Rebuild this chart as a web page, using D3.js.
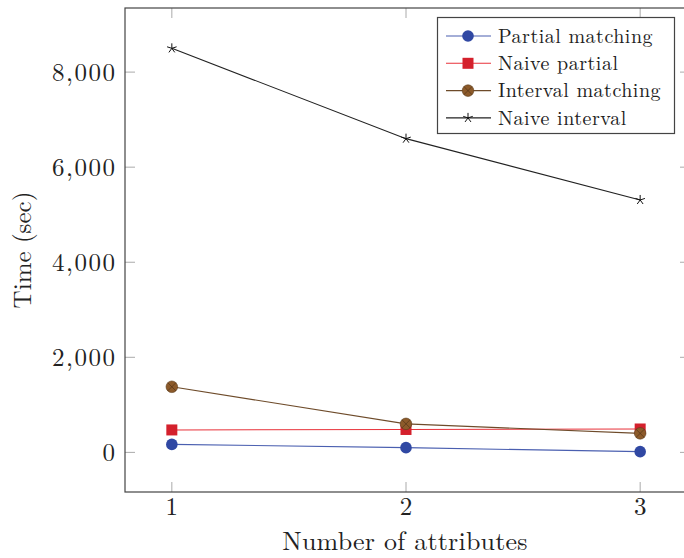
<!DOCTYPE html>
<html>
<head>
<meta charset="utf-8">
<script src="https://cdn.jsdelivr.net/npm/d3@7"></script>
<style>
  body { margin: 0; background: #fff; }
  svg text { font-family: "Latin Modern Roman", "CMU Serif", "Liberation Serif", serif; fill: #222; }
</style>
</head>
<body>
<svg id="chart" width="684" height="558"></svg>
<script>
var attributes = [1, 2, 3]
var seriesNames = ["Partial matching", "Naive partial", "Interval matching", "Naive interval"]
var partialMatching = [168, 99, 15]
var naivePartial = [472, 482, 492]
var intervalMatching = [1380, 600, 400]
var naiveInterval = [8500, 6600, 5310]
var yTicks = [0, 2000, 4000, 6000, 8000]

var series = [
    { name: seriesNames[0], values: partialMatching, color: "#3048a3", line: "#4a5fb0", mark: "circle" },
    { name: seriesNames[1], values: naivePartial, color: "#d4202c", line: "#e8323a", mark: "square" },
    { name: seriesNames[2], values: intervalMatching, color: "#8c5a2a", line: "#6e4b2a", mark: "otimes" },
    { name: seriesNames[3], values: naiveInterval, color: "#111", line: "#222", mark: "star" }
]

var svg = d3.select("#chart"),
    margin = { top: 8, left: 125, bottom: 66, right: -3 },
    width = +svg.attr("width") - margin.left - margin.right,
    height = +svg.attr("height") - margin.top - margin.bottom;

// pgfplots style: enlarge limits by 10% of the data range
var allVals = [].concat(partialMatching, naivePartial, intervalMatching, naiveInterval)
var ymin = d3.min(allVals), ymax = d3.max(allVals)
var ypad = (ymax - ymin) * 0.1
var xpad = (d3.max(attributes) - d3.min(attributes)) * 0.1

var x = d3.scaleLinear()
    .domain([d3.min(attributes) - xpad, d3.max(attributes) + xpad])
    .range([margin.left, margin.left + width])

var y = d3.scaleLinear()
    .domain([ymin - ypad, ymax + ypad])
    .range([margin.top + height, margin.top])

var fmt = d3.format(",")
var tickColor = "#aaa"

// ticks on all four sides, pointing inward
var g = svg.append("g")
g.selectAll(".ytl").data(yTicks).enter().append("line")
    .attr("x1", x.range()[0]).attr("x2", x.range()[0] + 10)
    .attr("y1", d => y(d)).attr("y2", d => y(d))
    .attr("stroke", tickColor)
g.selectAll(".ytr").data(yTicks).enter().append("line")
    .attr("x1", x.range()[1]).attr("x2", x.range()[1] - 7)
    .attr("y1", d => y(d)).attr("y2", d => y(d))
    .attr("stroke", tickColor)
g.selectAll(".xtb").data(attributes).enter().append("line")
    .attr("x1", d => x(d)).attr("x2", d => x(d))
    .attr("y1", y.range()[0]).attr("y2", y.range()[0] - 10)
    .attr("stroke", tickColor)
g.selectAll(".xtt").data(attributes).enter().append("line")
    .attr("x1", d => x(d)).attr("x2", d => x(d))
    .attr("y1", y.range()[1]).attr("y2", y.range()[1] + 10)
    .attr("stroke", tickColor)

svg.append("rect")
    .attr("x", x.range()[0]).attr("y", y.range()[1])
    .attr("width", width).attr("height", height)
    .attr("fill", "none").attr("stroke", "#444").attr("stroke-width", 1.2)

// tick labels
svg.selectAll(".ylab").data(yTicks).enter().append("text")
    .attr("x", x.range()[0] - 8.5)
    .attr("y", d => y(d))
    .attr("dy", "0.35em")
    .attr("text-anchor", "end")
    .style("font-size", "25px")
    .style("letter-spacing", "1.5px")
    .text(d => fmt(d))

svg.selectAll(".xlab").data(attributes).enter().append("text")
    .attr("x", d => x(d))
    .attr("y", 515)
    .attr("text-anchor", "middle")
    .style("font-size", "25px")
    .text(d => d)

svg.append("text")
    .attr("x", 405).attr("y", 550)
    .attr("text-anchor", "middle")
    .style("font-size", "26px")
    .style("letter-spacing", "0.2px")
    .text("Number of attributes")

svg.append("text")
    .attr("transform", "translate(31," + (margin.top + height / 2) + ") rotate(-90)")
    .attr("text-anchor", "middle")
    .style("font-size", "25px")
    .text("Time (sec)")

function drawMark(sel, s, cx, cy) {
    if (s.mark == "circle") {
        sel.append("circle").attr("cx", cx).attr("cy", cy).attr("r", 5.8)
            .attr("fill", s.color)
    } else if (s.mark == "square") {
        sel.append("rect").attr("x", cx - 5.5).attr("y", cy - 5.5)
            .attr("width", 11).attr("height", 11).attr("fill", s.color)
    } else if (s.mark == "otimes") {
        sel.append("circle").attr("cx", cx).attr("cy", cy).attr("r", 5.8)
            .attr("fill", s.color).attr("stroke", "#5a3a1a").attr("stroke-width", 0.6)
        var r = 5.8 * Math.SQRT1_2
        sel.append("path")
            .attr("d", `M${cx - r},${cy - r}L${cx + r},${cy + r}M${cx - r},${cy + r}L${cx + r},${cy - r}`)
            .attr("stroke", "#4a2e14").attr("stroke-width", 0.6)
    } else {
        // five-armed star like pgfplots "star"
        var d = ""
        for (var k = 0; k < 5; k++) {
            var a = -Math.PI / 2 + k * 2 * Math.PI / 5
            d += `M${cx},${cy}L${cx + 5 * Math.cos(a)},${cy + 5 * Math.sin(a)}`
        }
        sel.append("path").attr("d", d).attr("stroke", s.color).attr("stroke-width", 1)
    }
}

var line = d3.line()
    .x((d, i) => x(attributes[i]))
    .y(d => y(d))

series.forEach(function (s) {
    var sg = svg.append("g")
    sg.append("path")
        .attr("d", line(s.values))
        .attr("fill", "none")
        .attr("stroke", s.line)
        .attr("stroke-width", 1.1)
    s.values.forEach(function (v, i) {
        drawMark(sg, s, x(attributes[i]), y(v))
    })
})

// legend
var lg = svg.append("g")
lg.append("rect")
    .attr("x", 437.5).attr("y", 17.5)
    .attr("width", 237).attr("height", 116)
    .attr("fill", "#fff").attr("stroke", "#444").attr("stroke-width", 1.2)

series.forEach(function (s, i) {
    var cy = 36 + i * 27.3
    lg.append("line")
        .attr("x1", 446).attr("x2", 491)
        .attr("y1", cy).attr("y2", cy)
        .attr("stroke", s.line).attr("stroke-width", 1.1)
    drawMark(lg, s, 468, cy)
    lg.append("text")
        .attr("x", 498).attr("y", cy)
        .attr("dy", "0.33em")
        .style("font-size", "20px")
        .style("letter-spacing", "0.5px")
        .text(s.name)
})
</script>
</body>
</html>
